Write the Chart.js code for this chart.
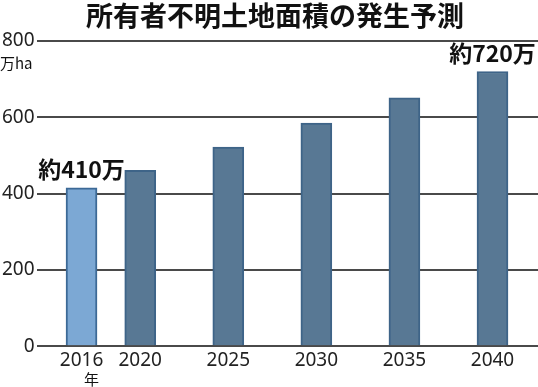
<!DOCTYPE html>
<html>
<head>
<meta charset="utf-8">
<script src="https://cdn.jsdelivr.net/npm/chart.js@4.4.1/dist/chart.umd.min.js"></script>
<style>
  html, body { margin: 0; padding: 0; background: #fff; }
</style>
</head>
<body>
<canvas id="landChart" width="538" height="387"></canvas>
<script>
// 所有者不明土地面積（万ha）
const years = ['2016', '2020', '2025', '2030', '2035', '2040'];
const slots = [0, 2, 5, 8, 11, 14];           // spacing of the year columns in the original layout
const area = [415, 461, 522, 585, 651, 720];
const notes = ['約410万', '', '', '', '', '約720万'];
const yTicks = [0, 200, 400, 600, 800];

const sansJP = '"Noto Sans CJK JP", "Noto Sans", sans-serif';

// extra texts: title, units, value notes
const textPlugin = {
    id: 'texts',
    afterDraw(chart) {
        const ctx = chart.ctx;
        ctx.save();
        ctx.fillStyle = '#111';

        // title
        ctx.font = 'bold 27px ' + sansJP;
        ctx.textAlign = 'center';
        ctx.textBaseline = 'middle';
        ctx.fillText('所有者不明土地面積の発生予測', 275, 16);

        // units
        ctx.font = '15px ' + sansJP;
        ctx.textAlign = 'left';
        ctx.fillText('万ha', 0, 63);
        ctx.textAlign = 'center';
        const x0 = chart.scales.x.getPixelForValue(slots[0]);
        ctx.fillText('年', x0 + 10, 379);

        // notes above bars
        const meta = chart.getDatasetMeta(0);
        ctx.font = 'bold 23px ' + sansJP;
        ctx.textBaseline = 'alphabetic';
        notes.forEach((n, i) => {
            if (!n) return;
            const bar = meta.data[i];
            ctx.fillText(n, bar.x, bar.y - 10);
        });
        ctx.restore();
    }
};

new Chart(document.getElementById('landChart'), {
    type: 'bar',
    data: {
        datasets: [{
            data: slots.map((s, i) => ({ x: s, y: area[i] })),
            backgroundColor: years.map((y, i) => i === 0 ? '#7ca8d4' : '#587894'),
            borderColor: years.map((y, i) => i === 0 ? '#3c6996' : '#3e6488'),
            borderWidth: 2,
            borderSkipped: 'bottom',
            barThickness: 31
        }]
    },
    options: {
        responsive: false,
        animation: false,
        layout: {
            padding: { top: 41, right: 0, bottom: 12, left: 0 }
        },
        plugins: {
            legend: { display: false },
            tooltip: { enabled: false }
        },
        scales: {
            x: {
                type: 'linear',
                min: -1.53,
                max: 15.55,
                offset: false,
                grid: { display: false, drawTicks: false },
                border: { display: false },
                afterBuildTicks: function (scale) {
                    scale.ticks = slots.map(v => ({ value: v }));
                },
                ticks: {
                    autoSkip: false,
                    maxRotation: 0,
                    padding: 3,
                    color: '#222',
                    font: { family: '"Noto Sans", sans-serif', size: 19 },
                    callback: function (value) {
                        const i = slots.indexOf(value);
                        return i >= 0 ? years[i] : '';
                    }
                }
            },
            y: {
                min: 0,
                max: 800,
                afterBuildTicks: function (scale) {
                    scale.ticks = yTicks.map(v => ({ value: v }));
                },
                grid: {
                    color: '#4a4a4a',
                    lineWidth: 2,
                    drawTicks: false
                },
                border: { display: false },
                ticks: {
                    padding: 2,
                    color: '#222',
                    font: { family: '"Noto Sans", sans-serif', size: 19 }
                }
            }
        }
    },
    plugins: [textPlugin]
});
</script>
</body>
</html>
